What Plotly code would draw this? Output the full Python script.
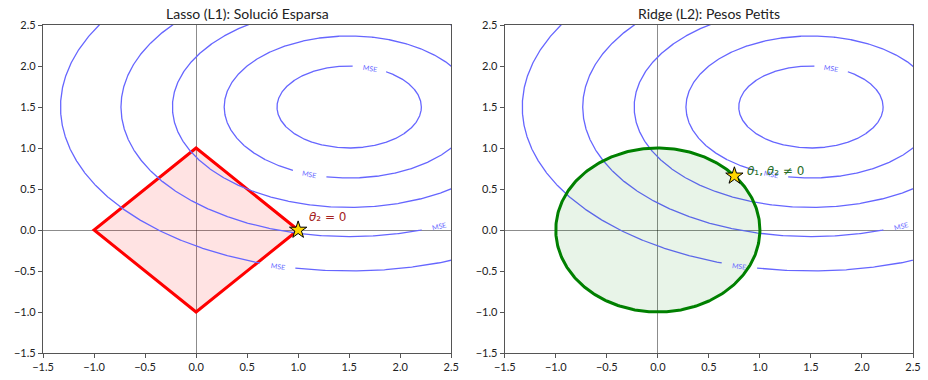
import numpy as np
import plotly.graph_objects as go
from plotly.subplots import make_subplots

# MSE loss surface: (t1 - 1.5)^2 + 2 (t2 - 1.5)^2, drawn at a few levels
mse_center = (1.5, 1.5)
mse_weights = (1.0, 2.0)
mse_levels = [0.5, 1.5, 3.0, 5.0, 8.0]

# where the "MSE" inline label sits on each level (x position, branch)
mse_label_x = {0.5: 1.70, 1.5: 1.11, 5.0: 2.38, 8.0: 0.80}
mse_label_branch = {0.5: 1, 1.5: -1, 5.0: -1, 8.0: -1}

# constraint regions
l1_x = [1, 0, -1, 0, 1]
l1_y = [0, 1, 0, -1, 0]
l2_radius = 1.0

# optimum on each constraint
lasso_opt = (1.0, 0.0)
ridge_opt = (0.75, 0.66)

tick_vals = [-1.5, -1.0, -0.5, 0.0, 0.5, 1.0, 1.5, 2.0, 2.5]
axis_range = [-1.5, 2.5]

titles = ["Lasso (L1): Solució Esparsa", "Ridge (L2): Pesos Petits"]

FONT = "Lato"
MSE_COLOR = "rgb(102,102,255)"

W, H = 928, 380
ml, mr, mt, mb = 43, 7, 25, 23
gap_frac = 54 / (W - ml - mr)
half = (1 - gap_frac) / 2
px_x = half * (W - ml - mr) / (axis_range[1] - axis_range[0])
px_y = (H - mt - mb) / (axis_range[1] - axis_range[0])

fig = make_subplots(rows=1, cols=2, horizontal_spacing=gap_frac)


def label_point(level):
    cx, cy = mse_center
    wx, wy = mse_weights
    lx = mse_label_x[level]
    ly = cy + mse_label_branch[level] * np.sqrt((level - wx * (lx - cx) ** 2) / wy)
    # slope of the level curve, converted to screen angle
    dydx = -(wx * (lx - cx)) / (wy * (ly - cy))
    ang = -np.degrees(np.arctan(dydx * px_y / px_x))
    return lx, ly, ang


def contour_path(level):
    cx, cy = mse_center
    wx, wy = mse_weights
    t = np.linspace(0, 2 * np.pi, 1441)
    xs = cx + np.sqrt(level / wx) * np.cos(t)
    ys = cy + np.sqrt(level / wy) * np.sin(t)
    xs = xs.astype(object)
    ys = ys.astype(object)
    if level in mse_label_x:
        lx, ly, _ = label_point(level)
        d = np.hypot((xs.astype(float) - lx) * px_x, (ys.astype(float) - ly) * px_y)
        mask = d < 17
        xs[mask] = None
        ys[mask] = None
    return list(xs), list(ys)


for col in (1, 2):
    # constraint region first so contours show on top of the fill
    if col == 1:
        fig.add_trace(go.Scatter(x=l1_x, y=l1_y, mode="lines", fill="toself",
                                 fillcolor="rgba(255,0,0,0.11)",
                                 line=dict(color="rgb(255,0,0)", width=3),
                                 hoverinfo="skip", showlegend=False), row=1, col=col)
    for lev in mse_levels:
        xs, ys = contour_path(lev)
        fig.add_trace(go.Scatter(x=xs, y=ys, mode="lines",
                                 line=dict(color=MSE_COLOR, width=1.3),
                                 connectgaps=False, hoverinfo="skip",
                                 showlegend=False), row=1, col=col)
    if col == 2:
        t = np.linspace(0, 2 * np.pi, 361)
        fig.add_trace(go.Scatter(x=l2_radius * np.cos(t), y=l2_radius * np.sin(t),
                                 mode="lines", fill="toself",
                                 fillcolor="rgba(0,128,0,0.09)",
                                 line=dict(color="rgb(0,128,0)", width=3),
                                 hoverinfo="skip", showlegend=False), row=1, col=col)
    opt = lasso_opt if col == 1 else ridge_opt
    fig.add_trace(go.Scatter(x=[opt[0]], y=[opt[1]], mode="markers",
                             marker=dict(symbol="star", size=13, color="gold",
                                         line=dict(color="black", width=1)),
                             hoverinfo="skip", showlegend=False), row=1, col=col)

    xref = "x" if col == 1 else "x2"
    yref = "y" if col == 1 else "y2"
    for lev in mse_levels:
        if lev not in mse_label_x:
            continue
        lx, ly, ang = label_point(lev)
        fig.add_annotation(x=lx, y=ly, xref=xref, yref=yref, text="MSE",
                           showarrow=False, textangle=ang,
                           font=dict(family=FONT, size=7, color=MSE_COLOR))

fig.add_annotation(x=1.09, y=0.16, xref="x", yref="y", text="<i>θ</i>₂ = 0",
                   showarrow=False, xanchor="left",
                   font=dict(family="DejaVu Sans", size=12, color="rgb(165,35,35)"))
fig.add_annotation(x=0.85, y=0.72, xref="x2", yref="y2", text="<i>θ</i>₁, <i>θ</i>₂ ≠ 0",
                   showarrow=False, xanchor="left",
                   font=dict(family="DejaVu Sans", size=12, color="rgb(40,110,40)"))

for i, ttl in enumerate(titles):
    xd = [0, half] if i == 0 else [1 - half, 1]
    fig.add_annotation(x=(xd[0] + xd[1]) / 2, y=1, xref="paper", yref="paper",
                       xanchor="center", yanchor="bottom", yshift=1, text=ttl,
                       showarrow=False,
                       font=dict(family=FONT, size=14, color="#222"))

axis_style = dict(range=axis_range, tickvals=tick_vals, tickformat=".1f",
                  showgrid=False, zeroline=True, zerolinecolor="rgba(0,0,0,0.45)",
                  zerolinewidth=1, showline=True, mirror=True, linecolor="#555",
                  linewidth=1.2, ticks="outside", ticklen=4, tickcolor="#555",
                  tickfont=dict(family=FONT, size=11, color="#222"))

fig.update_xaxes(**axis_style)
fig.update_yaxes(**axis_style)

fig.update_layout(width=W, height=H, margin=dict(l=ml, r=mr, t=mt, b=mb),
                  plot_bgcolor="white", paper_bgcolor="white")

fig.write_html("out.html")
